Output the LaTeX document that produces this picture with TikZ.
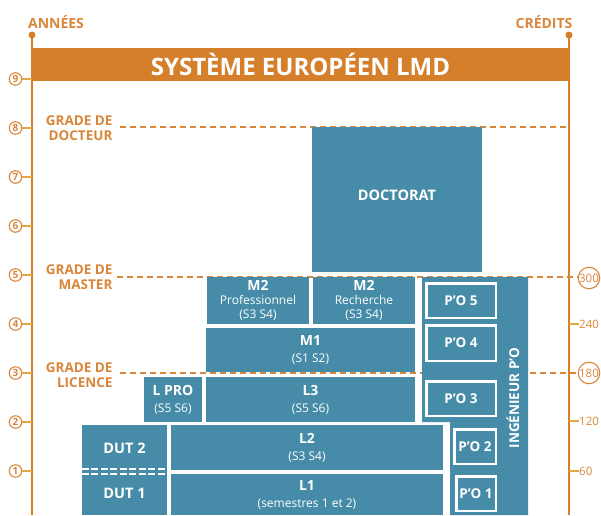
\documentclass[tikz,border=0pt]{standalone}
\usepackage{fontspec}
\setmainfont{Open Sans}
\definecolor{blu}{HTML}{468BA7}
\definecolor{org}{HTML}{D57F2B}
\definecolor{orgt}{HTML}{D9863A}
\definecolor{tickc}{HTML}{E3A640}
\newcommand{\bt}[1]{{\fontsize{14}{14}\selectfont\bfseries #1}}
\newcommand{\st}[1]{{\fontsize{12}{14}\selectfont #1}}
\tikzset{
  box/.style={fill=blu, text=white, inner sep=0pt, align=center, anchor=center, font=\fontsize{12}{14}\selectfont},
  bbox/.style={box, font=\fontsize{14.5}{16}\selectfont\bfseries},
  pobox/.style={box, draw=white, line width=2.5pt, font=\fontsize{13.5}{15}\selectfont\bfseries},
  yc/.style={circle, draw=orgt, line width=1.1pt, minimum size=12.5pt, inner sep=0pt, text=orgt, font=\fontsize{10}{10}\selectfont\bfseries},
  cc/.style={circle, draw=orgt, line width=1.1pt, minimum size=21.5pt, inner sep=0pt, text=orgt, font=\fontsize{11.5}{12}\selectfont},
  axis/.style={org, line width=2pt},
  tk/.style={tickc, line width=1.5pt},
  grade/.style={anchor=east, align=right, text=orgt, font=\fontsize{13.5}{15}\selectfont\bfseries},
  gline/.style={orgt, line width=1.6pt, dash pattern=on 6pt off 4pt},
  lab/.style={text=orgt, font=\fontsize{14}{15}\selectfont\bfseries},
}
\begin{document}
\begin{tikzpicture}[x=1pt,y=-1pt]
\clip (0,0) rectangle (601,515);
% axes
\coordinate (ltop) at (32,35);
\coordinate (lbot) at (32,515);
\coordinate (rtop) at (569,35);
\coordinate (rbot) at (569,515);
\draw[axis] (ltop) -- (lbot);
\draw[axis] (rtop) -- (rbot);
\fill[org] (ltop) circle[radius=3.5pt];
\fill[org] (rtop) circle[radius=3.5pt];
\node[lab] (annees) at (56,22) {ANNÉES};
\node[lab] (credits) at (544,22) {CRÉDITS};
% year circles
\foreach \n in {1,...,9} {
  \node[yc] (y\n) at (15.5,{520-49*\n}) {\n};
  \coordinate (a\n) at (32,{520-49*\n});
  \draw[tk] (y\n.east) -- (a\n);
}
% title bar
\node[fill=org, minimum width=537pt, minimum height=33pt, inner sep=0pt, text=white,
      font=\fontsize{24}{26}\selectfont\bfseries] (title) at (300.5,64.5) {SYSTÈME EUROPÉEN LMD};
% grade lines
\node[grade] (gdoc) at (116,128) {GRADE DE\\DOCTEUR};
\node[grade] (gmas) at (116,277) {GRADE DE\\MASTER};
\node[grade] (glic) at (116,375) {GRADE DE\\LICENCE};
\coordinate (edoc) at (569,127);
\node[cc] (c300) at (589,278) {300};
\node[cc] (c180) at (589,373) {180};
\coordinate (smas) at (117,277);
\coordinate (slic) at (120,373);
\coordinate (sdoc) at (120,127);
\draw[gline] (sdoc) -- (edoc);
\draw[gline] (smas) -- (c300.west |- smas);
\draw[gline] (slic) -- (c180.west);
% credit ticks
\foreach \v/\yy in {240/324,120/421,60/471} {
  \coordinate (r\v) at (569,\yy);
  \node[anchor=west, inner sep=0pt, text=orgt, font=\fontsize{11.5}{12}\selectfont] (t\v) at (579,\yy) {\v};
  \draw[tk] (r\v) -- (t\v.west);
}
% boxes
\node[box, minimum width=170pt, minimum height=145pt] (doc) at (397,199.5) {};
\node[text=white, inner sep=0pt, font=\fontsize{14.5}{16}\selectfont\bfseries] (doctxt) at ([yshift=4.5pt]doc.center) {DOCTORAT};
\node[box, minimum width=102pt, minimum height=47pt] (m2p) at (258,300.5) {\bt{M2}\\\st{Professionnel}\\\st{(S3 S4)}};
\node[box, minimum width=102pt, minimum height=47pt] (m2r) at (364,300.5) {\bt{M2}\\\st{Recherche}\\\st{(S3 S4)}};
\node[box, minimum width=209pt, minimum height=44pt] (m1) at (310.5,350) {\bt{M1}\\[3pt]\st{(S1 S2)}};
\node[box, minimum width=209pt, minimum height=45pt] (l3) at (310.5,399.5) {\bt{L3}\\[3pt]\st{(S5 S6)}};
\node[box, minimum width=58pt, minimum height=45pt] (lpro) at (173,399.5) {\bt{L PRO}\\[3pt]\st{(S5 S6)}};
\node[bbox, minimum width=85pt, minimum height=46pt] (dut2) at (124.5,448) {DUT 2};
\node[bbox, minimum width=85pt, minimum height=44pt] (dut1) at (124.5,493) {DUT 1};
\draw[white, line width=1.3pt, dash pattern=on 7pt off 2.5pt] (dut2.south west) ++(0,-2.3) -- ++(85,0);
\draw[white, line width=1.3pt, dash pattern=on 7pt off 2.5pt] (dut2.south west) ++(0,2.7) -- ++(85,0);
\node[box, minimum width=272pt, minimum height=45pt] (l2) at (307,447.5) {\bt{L2}\\[3pt]\st{(S3 S4)}};
\node[box, minimum width=272pt, minimum height=41pt] (l1) at (307,494.5) {\bt{L1}\\[3pt]\st{(semestres 1 et 2)}};
% ingenieur P'O
\fill[blu] (422,277) -- (528,277) -- (528,515) -- (450,515) -- (450,422) -- (422,422) -- cycle;
\node[rotate=90, text=white, font=\fontsize{13.5}{15}\selectfont\bfseries] (ing) at (513,398) {INGÉNIEUR P’O};
\node[pobox, minimum width=69.5pt, minimum height=34.5pt] (po5) at (461,300.5) {P’O 5};
\node[pobox, minimum width=69.5pt, minimum height=35.5pt] (po4) at (461,343) {P’O 4};
\node[pobox, minimum width=69.5pt, minimum height=34.5pt] (po3) at (461,398.5) {P’O 3};
\node[pobox, minimum width=41.5pt, minimum height=34.5pt] (po2) at (475,446.5) {P’O 2};
\node[pobox, minimum width=39.5pt, minimum height=34.5pt] (po1) at (476,493.5) {P’O 1};
\end{tikzpicture}
\end{document}
